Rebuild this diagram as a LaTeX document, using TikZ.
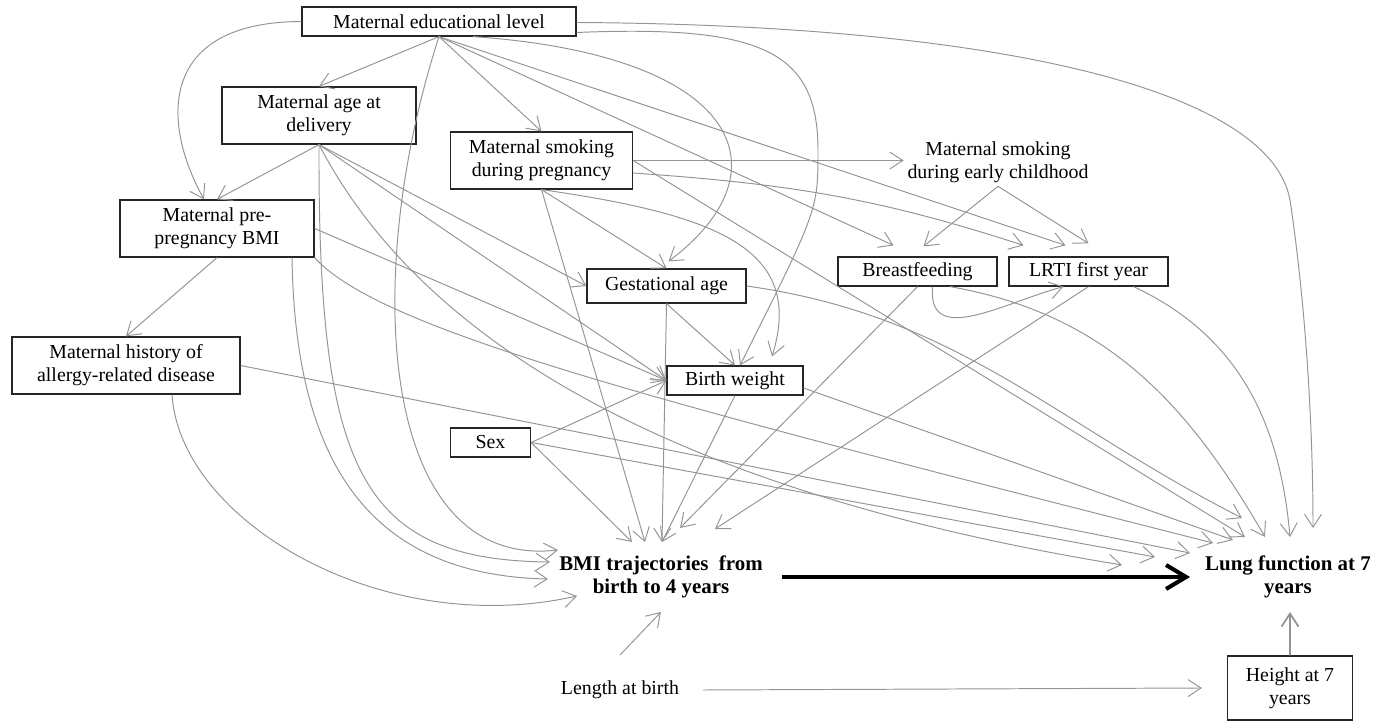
\documentclass[tikz,border=0pt]{standalone}
\usepackage{fontspec}
\setmainfont{Liberation Serif}
\usetikzlibrary{arrows.meta}

\begin{document}
\begin{tikzpicture}
        [font=\fontsize{11.3}{13}\selectfont,
         box_style/.style={rectangle,draw=black!85,line width=0.7pt,align=center,inner sep=2pt},
         text_style/.style={align=center,inner sep=2pt},
         bold_style/.style={align=center,inner sep=2pt,font=\fontsize{11.9}{13}\selectfont\bfseries},
         edge_style/.style={draw=black!42,line width=0.55pt,-{Straight Barb[length=2.6mm,width=3.4mm]}},
         main_edge_style/.style={draw=black,line width=2.3pt,-{Straight Barb[length=4mm,width=4.8mm]}}]
            \useasboundingbox (0,0) rectangle (27.5,-14.5);
            % variables
            \node[box_style,minimum width=5.48cm,minimum height=0.58cm] (edu) at (8.78,-0.43) {Maternal educational level};
            \node[box_style,minimum width=3.88cm,minimum height=1.14cm] (age) at (6.38,-2.31) {Maternal age at\\delivery};
            \node[box_style,minimum width=3.88cm,minimum height=1.14cm] (prebmi) at (4.34,-4.57) {Maternal pre-\\pregnancy BMI};
            \node[box_style,minimum width=4.56cm,minimum height=1.14cm] (allergy) at (2.52,-7.31) {Maternal history of\\allergy-related disease};
            \node[box_style,minimum width=3.64cm,minimum height=1.14cm] (smokepreg) at (10.83,-3.21) {Maternal smoking\\during pregnancy};
            \node[text_style] (smokechild) at (19.96,-3.24) {Maternal smoking\\during early childhood};
            \node[box_style,minimum width=3.18cm,minimum height=0.68cm] (gest) at (13.33,-5.72) {Gestational age};
            \node[box_style,minimum width=2.72cm,minimum height=0.58cm] (bw) at (14.7,-7.61) {Birth weight};
            \node[box_style,minimum width=1.6cm,minimum height=0.58cm] (sex) at (9.81,-8.85) {Sex};
            \node[box_style,minimum width=3.18cm,minimum height=0.58cm] (breast) at (18.35,-5.43) {Breastfeeding};
            \node[box_style,minimum width=3.18cm,minimum height=0.58cm] (lrti) at (21.77,-5.43) {LRTI first year};
            \node[bold_style] (bmitraj) at (13.22,-11.54) {BMI trajectories\ \ from\\birth to 4 years};
            \node[bold_style] (lung) at (25.76,-11.54) {Lung function at 7\\years};
            \node[text_style] (length) at (12.4,-13.8) {Length at birth};
            \node[box_style,minimum width=2.5cm,minimum height=1.28cm] (height) at (25.8,-13.76) {Height at 7\\years};
            % maternal educational level
            \draw[edge_style] (edu.south) -- (age.north);
            \draw[edge_style] (edu.west) .. controls (3.2,-0.44) and (3.2,-2.4) .. ([xshift=-0.26cm]prebmi.north);
            \draw[edge_style] (edu.south) -- (smokepreg.north);
            \draw[edge_style] ([xshift=0.68cm]edu.south) .. controls (14.8,-1.1) and (15.8,-3.4) .. ([shift={(0.04,0.14)}]gest.north);
            \draw[edge_style] ([yshift=-0.22cm]edu.east) .. controls (15.2,-0.5) and (16.36,-1.0) .. (16.36,-3.0) .. controls (16.36,-4.2) .. ([xshift=0.1cm]bw.north);
            \draw[edge_style] ([yshift=-0.02cm]edu.east) .. controls (20,-0.5) and (25.4,-1.8) .. (25.8,-4.0) .. controls (26.1,-6.0) and (26.26,-8.4) .. ([shift={(0.5,0.98)}]lung.center);
            \draw[edge_style] (edu.south) -- ([shift={(-0.48,0.22)}]breast.north);
            \draw[edge_style] (edu.south) -- ([shift={(-0.46,0.22)}]lrti.north);
            \draw[edge_style] (edu.south) .. controls (7.2,-5.6) and (7.6,-11.4) .. ([shift={(-2.06,0.54)}]bmitraj.center);
            % maternal age
            \draw[edge_style] (age.south) -- (prebmi.north);
            \draw[edge_style] (age.south) .. controls (6.36,-9.4) and (7.2,-11.2) .. ([shift={(-2.22,0.3)}]bmitraj.center);
            \draw[edge_style] (age.south) -- (gest.west);
            \draw[edge_style] (age.south) -- (bw.west);
            \draw[edge_style] (age.south) .. controls (8,-6) and (12,-9.6) .. ([shift={(-3.32,0.24)}]lung.center);
            % pre-pregnancy BMI and allergy
            \draw[edge_style] (prebmi.south) -- (allergy.north);
            \draw[edge_style] (prebmi.east) -- (bw.west);
            \draw[edge_style] ([xshift=1.5cm]prebmi.south) .. controls (5.9,-9) and (7.2,-11.5) .. ([shift={(-2.26,-0.04)}]bmitraj.center);
            \draw[edge_style] (prebmi.south east) .. controls (7.6,-6.6) and (13,-8) .. ([shift={(-1.5,0.68)}]lung.center);
            \draw[edge_style] ([xshift=0.92cm]allergy.south) .. controls (3.6,-10.4) and (7.6,-12.8) .. ([shift={(-1.68,-0.38)}]bmitraj.center);
            \draw[edge_style] (allergy.east) -- ([shift={(-1.96,0.48)}]lung.center);
            % smoking during pregnancy
            \draw[edge_style] (smokepreg.east) -- (smokepreg.east -| smokechild.west);
            \draw[edge_style] ([yshift=-0.25cm]smokepreg.east) to[out=-4,in=162] ([shift={(-1.3,0.22)}]lrti.north);
            \draw[edge_style] (smokepreg.south) -- (gest.north);
            \draw[edge_style] (smokepreg.south) .. controls (14.4,-4.3) and (16.1,-5.0) .. ([shift={(0.74,0.18)}]bw.north);
            \draw[edge_style] (smokepreg.south) -- ([shift={(-0.32,0.7)}]bmitraj.center);
            \draw[edge_style] (smokepreg.east) -- ([shift={(-0.86,0.8)}]lung.center);
            % birth
            \draw[edge_style] (gest.south) -- (bw.north);
            \draw[edge_style] (gest.south) -- ([shift={(0.02,0.7)}]bmitraj.center);
            \draw[edge_style] (gest.east) to[out=-8,in=153] ([shift={(-0.92,1.18)}]lung.center);
            \draw[edge_style] (bw.south) -- ([shift={(0.02,0.7)}]bmitraj.center);
            \draw[edge_style] ([yshift=-0.15cm]bw.east) -- ([shift={(-1.1,0.74)}]lung.center);
            \draw[edge_style] (sex.east) -- (bw.west);
            \draw[edge_style] (sex.east) -- ([shift={(-0.58,0.7)}]bmitraj.center);
            \draw[edge_style] (sex.east) -- ([shift={(-2.66,0.4)}]lung.center);
            % early childhood
            \draw[edge_style] ([xshift=0.3cm]breast.south) to[out=-95,in=195,looseness=1.2] ([xshift=-0.5cm]lrti.south);
            \draw[edge_style] (breast.south) -- ([shift={(0.38,0.98)}]bmitraj.center);
            \draw[edge_style] ([xshift=0.65cm]breast.south) to[out=-10,in=120] ([shift={(-0.46,0.8)}]lung.center);
            \draw[edge_style] (lrti.south) -- ([shift={(1.08,0.96)}]bmitraj.center);
            \draw[edge_style] ([xshift=0.9cm]lrti.south) to[out=-25,in=95] ([shift={(0.04,0.8)}]lung.center);
            \draw[edge_style] (smokechild.south) -- ([shift={(0.12,0.2)}]breast.north);
            \draw[edge_style] (smokechild.south) -- ([yshift=0.26cm]lrti.north);
            % outcome
            \draw[edge_style,line width=1pt] (height.north) -- ([shift={(0.04,-0.7)}]lung.center);
            \draw[main_edge_style] ([xshift=2.42cm]bmitraj.center) -- ([xshift=-1.96cm]lung.center);
            \draw[edge_style] ([yshift=0.7cm]length.center) -- ([yshift=-0.7cm]bmitraj.center);
            \draw[edge_style] ([xshift=0.4cm]length.east) -- ([xshift=-0.5cm]height.west);
        \end{tikzpicture}
\end{document}
